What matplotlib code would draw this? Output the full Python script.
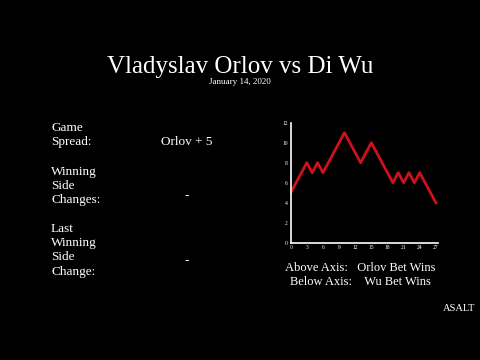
import matplotlib
matplotlib.use("Agg")
import matplotlib.pyplot as plt

# data
x_vals = list(range(28))
margin = [5, 6, 7, 8, 7, 8, 7, 8, 9, 10, 11, 10, 9, 8,
          9, 10, 9, 8, 7, 6, 7, 6, 7, 6, 7, 6, 5, 4]
x_ticks = [0, 3, 6, 9, 12, 15, 18, 21, 24, 27]
y_ticks = [0, 2, 4, 6, 8, 10, 12]

title = "Vladyslav Orlov vs Di Wu"
date = "January 14, 2020"
labels = [
    ("Game", 130.5), ("Spread:", 145),
    ("Winning", 175), ("Side", 189), ("Changes:", 203),
    ("Last", 232), ("Winning", 246), ("Side", 260), ("Change:", 275),
]
values = [("Orlov + 5", 145), ("-", 199), ("-", 264)]

plt.rcParams['font.family'] = ['Liberation Serif', 'DejaVu Serif']

W, H = 480, 360
fig = plt.figure(figsize=(4.8, 3.6), dpi=100, facecolor='black')


def put(txt, px, py, size, ha='left'):
    fig.text(px / W, 1 - py / H, txt, color='white', fontsize=size,
             ha=ha, va='baseline')


put(title, 240, 73.5, 18, ha='center')
put(date, 240, 84, 6.5, ha='center')
for txt, py in labels:
    put(txt, 51, py, 9.5)
for txt, py in values:
    put(txt, 187, py, 9.5, ha='center')

put("Above Axis:   Orlov Bet Wins", 360, 271, 9, ha='center')
put("Below Axis:    Wu Bet Wins", 360, 285, 9, ha='center')
put("ASALT", 459, 311, 7.5, ha='center')

ax = fig.add_axes([290.7 / W, 1 - 242.7 / H, 147.3 / W, 120 / H])
ax.set_facecolor('black')
ax.plot(x_vals, margin, color='#d0111b', lw=2)
ax.set_xlim(0, 27.4)
ax.set_ylim(0, 12)
ax.set_xticks(x_ticks)
ax.set_yticks(y_ticks)
ax.tick_params(colors='white', labelsize=4, length=0, pad=2)
for s in ['top', 'right']:
    ax.spines[s].set_visible(False)
for s in ['left', 'bottom']:
    ax.spines[s].set_color('white')
    ax.spines[s].set_linewidth(1.2)

fig.savefig('out.png', dpi=100, facecolor='black')
